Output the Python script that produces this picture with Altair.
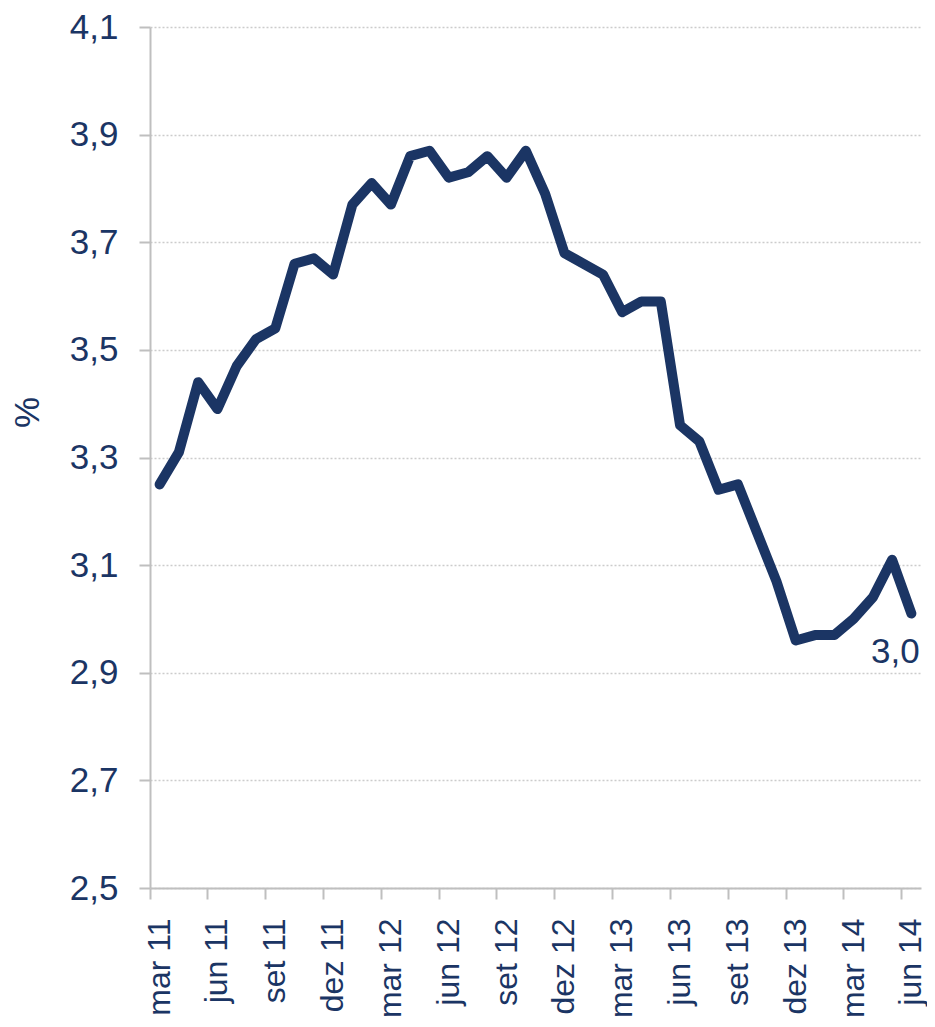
import altair as alt
import pandas as pd

months = ["mar 11", "abr 11", "mai 11", "jun 11", "jul 11", "ago 11", "set 11", "out 11",
          "nov 11", "dez 11", "jan 12", "fev 12", "mar 12", "abr 12", "mai 12", "jun 12",
          "jul 12", "ago 12", "set 12", "out 12", "nov 12", "dez 12", "jan 13", "fev 13",
          "mar 13", "abr 13", "mai 13", "jun 13", "jul 13", "ago 13", "set 13", "out 13",
          "nov 13", "dez 13", "jan 14", "fev 14", "mar 14", "abr 14", "mai 14", "jun 14"]
values = [3.25, 3.31, 3.44, 3.39, 3.47, 3.52, 3.54, 3.66,
          3.67, 3.64, 3.77, 3.81, 3.77, 3.86, 3.87, 3.82,
          3.83, 3.86, 3.82, 3.87, 3.79, 3.68, 3.66, 3.64,
          3.57, 3.59, 3.59, 3.36, 3.33, 3.24, 3.25, 3.16,
          3.07, 2.96, 2.97, 2.97, 3.00, 3.04, 3.11, 3.01]
tick_labels = ["mar 11", "jun 11", "set 11", "dez 11", "mar 12", "jun 12", "set 12",
               "dez 12", "mar 13", "jun 13", "set 13", "dez 13", "mar 14", "jun 14"]
y_ticks = [2.5, 2.7, 2.9, 3.1, 3.3, 3.5, 3.7, 3.9, 4.1]
last_label = ["3,0"]

NAVY = "#1B3564"
GREY = "#BFBFBF"

df = pd.DataFrame({"mes": months, "valor": values})
df_last = pd.DataFrame({"mes": [months[-1]], "valor": [values[-1]], "txt": last_label})

x_enc = alt.X(
    "mes:O",
    sort=months,
    bandPosition=0.5,
    scale=alt.Scale(type="band", domain=months, paddingInner=0, paddingOuter=0),
    axis=alt.Axis(
        values=tick_labels,
        bandPosition=0,
        tickExtra=False,
        labelAngle=-90,
        labelFontSize=32,
        labelColor=NAVY,
        labelPadding=19,
        tickSize=11,
        tickColor=GREY,
        tickWidth=2,
        domainColor=GREY,
        domainWidth=2,
        grid=False,
        title=None,
    ),
)

y_enc = alt.Y(
    "valor:Q",
    scale=alt.Scale(domain=[2.5, 4.1], nice=False, zero=False),
    axis=alt.Axis(
        values=y_ticks,
        labelExpr="replace(format(datum.value, '.1f'), '.', ',')",
        labelFontSize=35,
        labelColor=NAVY,
        labelPadding=21,
        tickSize=11,
        tickColor=GREY,
        tickWidth=2,
        domainColor=GREY,
        domainWidth=2,
        grid=True,
        gridColor="#CCCCCC",
        gridDash=[2, 2],
        gridWidth=1.5,
        title="%",
        titleFontSize=35,
        titleFontWeight="normal",
        titleColor=NAVY,
        titleAngle=270,
        titleX=-123,
        titleY=385,
        titleAlign="center",
        titleBaseline="middle",
    ),
)

line = alt.Chart(df).mark_line(
    color=NAVY, strokeWidth=10, strokeCap="round", strokeJoin="round"
).encode(x=x_enc, y=y_enc)

label = alt.Chart(df_last).mark_text(
    color=NAVY, fontSize=35, dx=-16, dy=38, align="center", baseline="middle"
).encode(
    x=alt.X("mes:O", sort=months, bandPosition=0.5),
    y=alt.Y("valor:Q"),
    text="txt:N",
)

chart = (
    alt.layer(line, label)
    .properties(
        width=771,
        height=861,
        autosize=alt.AutoSizeParams(type="none"),
        padding={"left": 142, "top": 19, "right": 6, "bottom": 131},
    )
    .configure(font="Liberation Sans")
    .configure_view(stroke=None)
)

chart.save("out.html", embed_options={"renderer": "svg", "actions": False})
